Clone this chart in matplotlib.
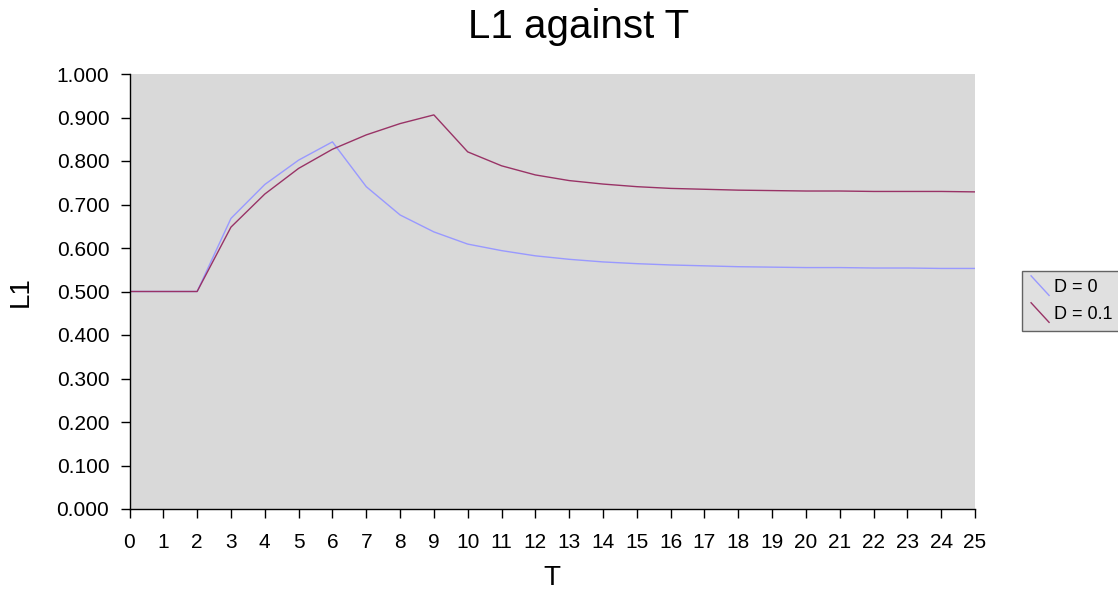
import matplotlib
matplotlib.use("Agg")
import matplotlib.pyplot as plt
from matplotlib.legend_handler import HandlerBase
from matplotlib.lines import Line2D

plt.rcParams['font.family'] = ['Liberation Sans', 'DejaVu Sans']

T = list(range(26))
d0 = [0.500, 0.500, 0.500, 0.668, 0.746, 0.802, 0.844, 0.741, 0.676, 0.637,
      0.609, 0.594, 0.582, 0.574, 0.568, 0.564, 0.561, 0.559, 0.557, 0.556,
      0.555, 0.555, 0.554, 0.554, 0.553, 0.553]
d01 = [0.500, 0.500, 0.500, 0.648, 0.724, 0.783, 0.827, 0.860, 0.886, 0.906,
       0.821, 0.789, 0.768, 0.755, 0.747, 0.741, 0.737, 0.735, 0.733, 0.732,
       0.731, 0.731, 0.730, 0.730, 0.730, 0.729]
labels = ["D = 0", "D = 0.1"]
colors = ["#9999FF", "#993366"]


class DiagHandler(HandlerBase):
    def create_artists(self, legend, orig_handle, xdescent, ydescent,
                       width, height, fontsize, trans):
        l = Line2D([xdescent + width * 0.05, xdescent + width * 1.0],
                   [ydescent + height * 1.25, ydescent - height * 0.3],
                   color=orig_handle.get_color(), lw=orig_handle.get_linewidth())
        l.set_transform(trans)
        return [l]


W, H = 1118, 593
fig = plt.figure(figsize=(W / 100, H / 100), dpi=100)
L, R, TOP, BOT = 129.5, 975, 74, 509
ax = fig.add_axes([L / W, 1 - BOT / H, (R - L) / W, (BOT - TOP) / H])
ax.set_facecolor("#D9D9D9")

h1, = ax.plot(T, d0, color=colors[0], lw=1.0, label=labels[0])
h2, = ax.plot(T, d01, color=colors[1], lw=1.0, label=labels[1])

ax.set_xlim(0, 25)
ax.set_ylim(0, 1.0)
ax.set_xticks(T)
ax.set_yticks([i / 10 for i in range(11)])
ax.set_yticklabels([f"{i / 10:.3f}" for i in range(11)])
ax.tick_params(direction="out", length=6.5, width=1, labelsize=15, colors="black")
ax.tick_params(axis="y", pad=8)
ax.tick_params(axis="x", pad=10.5)
for s in ["top", "right"]:
    ax.spines[s].set_visible(False)
for s in ["left", "bottom"]:
    ax.spines[s].set_color("black")
    ax.spines[s].set_linewidth(1)

ax.set_xlabel("T", fontsize=20)
ax.set_ylabel("L1", fontsize=20)
ax.xaxis.set_label_coords(0.5, (BOT - 578) / (BOT - TOP))
ax.xaxis.label.set_va("center")
ax.yaxis.set_label_coords((21 - L) / (R - L), 0.5)
ax.yaxis.label.set_va("center")
ax.yaxis.label.set_ha("center")
fig.text(579 / W, 1 - 27 / H, "L1 against T", fontsize=29, ha="center", va="center")

leg = fig.legend([h1, h2], labels, handler_map={Line2D: DiagHandler()},
                 loc="upper left", bbox_to_anchor=(1022 / W, 1 - 270.5 / H),
                 frameon=True, fancybox=False, edgecolor="#404040", fontsize=13,
                 handlelength=1.05, handletextpad=0.3, borderpad=0.45,
                 labelspacing=0.55, borderaxespad=0)
leg.get_frame().set_linewidth(1)
leg.get_frame().set_facecolor("#D9D9D9")

fig.savefig("out.png", dpi=100)
